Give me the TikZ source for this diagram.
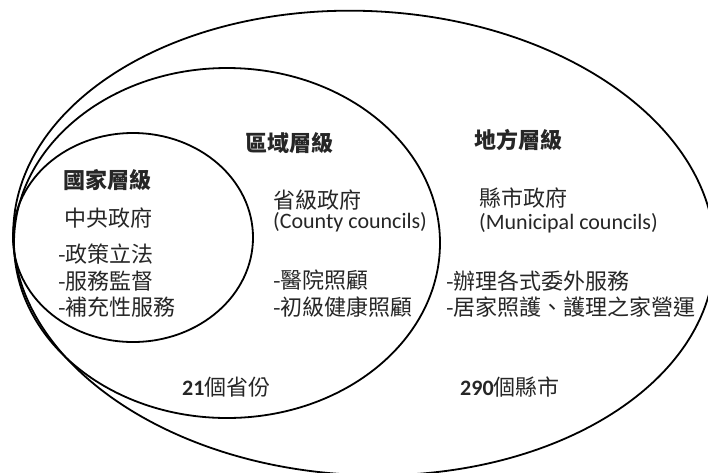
\documentclass[tikz,border=0pt]{standalone}
\usepackage{fontspec}
\setmainfont{Carlito}
\newfontfamily\cjk{Noto Sans CJK TC}
\definecolor{txt}{HTML}{262626}
\begin{document}
\begin{tikzpicture}[x=1pt,y=-1pt,
  ring/.style={draw=black,line width=1.8pt},
  lbl/.style={anchor=west,inner sep=0pt,text=txt,font=\fontsize{22}{26}\selectfont\cjk},
  head/.style={lbl,font=\fontsize{22}{26}\selectfont\cjk\bfseries},
  eng/.style={anchor=west,inner sep=0pt,text=txt,font=\fontsize{22}{26}\selectfont}]
\useasboundingbox (0,0) rectangle (708,472);
\fill[white] (0,0) rectangle (708,472);
% ellipses
\draw[ring,rotate around={-2.7:(364,243)}] (364,243) ellipse [x radius=351, y radius=232];
\draw[ring] (227,243) ellipse [x radius=213, y radius=175];
\draw[ring] (133,237.5) ellipse [x radius=120, y radius=104.5];
% national level
\node[head] (natH) at (63,180) {國家層級};
\node[lbl] (natG) at (64,218) {中央政府};
\node[lbl] (natA) at (58,254) {-政策立法};
\node[lbl] (natB) at (58,281) {-服務監督};
\node[lbl] (natC) at (58,307) {-補充性服務};
% regional level
\node[head] (regH) at (245,143) {區域層級};
\node[lbl] (regG) at (273,200) {省級政府};
\node[eng] (regE) at (273,222) {(County councils)};
\node[lbl] (regA) at (273,280) {-醫院照顧};
\node[lbl] (regB) at (273,307) {-初級健康照顧};
\node[lbl] (regN) at (182,387) {{\fontspec{Carlito}\bfseries 21}個省份};
% local level
\node[head] (locH) at (474,140) {地方層級};
\node[lbl] (locG) at (479,198) {縣市政府};
\node[eng] (locE) at (479,223) {(Municipal councils)};
\node[lbl] (locA) at (446,281) {-辦理各式委外服務};
\node[lbl] (locB) at (446,307) {-居家照護、護理之家營運};
\node[lbl] (locN) at (460,387) {{\fontspec{Carlito}\bfseries 290}個縣市};
\end{tikzpicture}
\end{document}
